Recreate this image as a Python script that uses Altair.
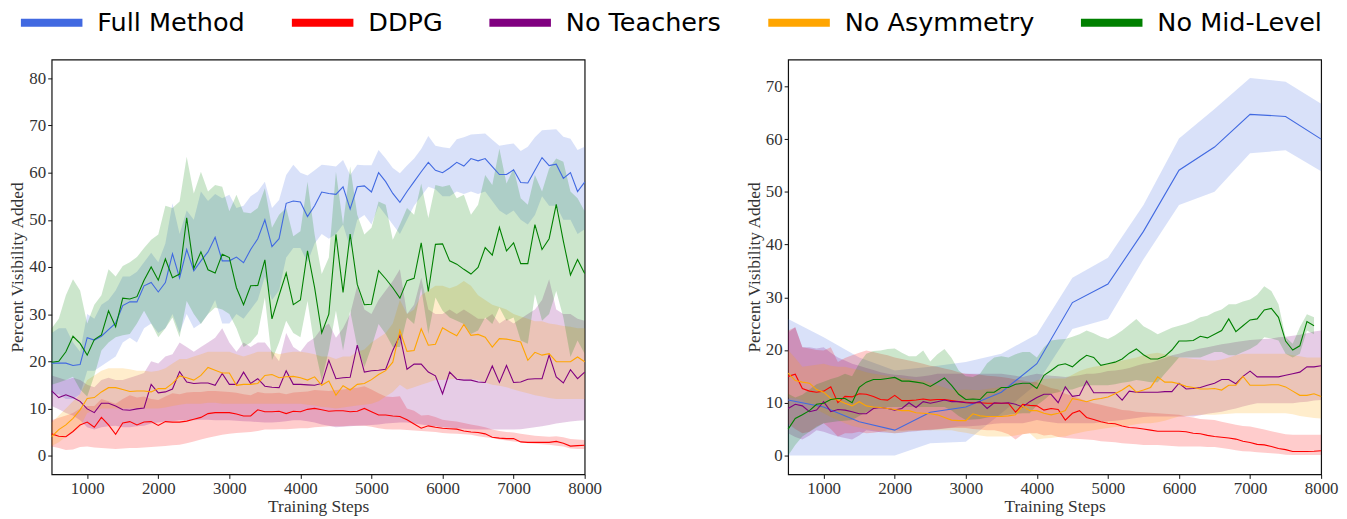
import altair as alt
import pandas as pd

METHODS = ["Full Method", "DDPG", "No Teachers", "No Asymmetry", "No Mid-Level"]
COLORS = ["#4169E1", "#FF0000", "#800080", "#FFA500", "#008000"]

steps = list(range(500, 8001, 100))
steps_green_r = list(range(500, 7901, 100))
steps_blue_r = [500, 1000, 1500, 2000, 2500, 3000, 3500, 4000, 4500, 5000, 5500, 6000, 6500, 7000, 7500, 8000]

# ---------------- Left panel ----------------
L_blue = [19.6, 19.6, 19.6, 19.1, 19.3, 25, 24.5, 25.3, 26.7, 28.1, 31.8, 32.6, 32.6, 36, 36.7, 34.7, 36.7, 42.8, 37.7, 43.7,
          39.2, 41.3, 43.2, 46.3, 41.3, 41.3, 42.1, 40.9, 43.7, 46, 50, 44.3, 46, 53.5, 54, 53.8, 50.7, 53, 55.9, 55.6,
          55.4, 57, 52.3, 57, 57.2, 55.9, 60, 58.1, 55.6, 53.7, 56, 58.1, 60.2, 62.2, 60.5, 60, 61, 62.2, 61.4, 63,
          62.5, 63, 61.3, 59.6, 59.6, 60.6, 57.9, 57.8, 60.5, 63.2, 61.5, 61.8, 58.8, 60, 56, 58]
L_blue_hi = [26, 27, 27, 24, 22, 30, 29, 32, 33, 35, 38, 38, 39, 41, 43, 41, 45, 53.5, 47, 52,
             50, 56, 54, 55.5, 54.6, 55.3, 52.5, 53, 55, 56, 58.1, 52.5, 54.2, 59.5, 61.7, 60, 59.4, 60.5, 61.7, 61.5,
             61.3, 62.7, 59.5, 61.7, 61.6, 61.6, 64.8, 63, 61, 59.9, 61.5, 63, 65, 67.8, 65.7, 65.4, 65.2, 67.1, 67.5, 68.1,
             68.2, 68.3, 67, 65.7, 66, 66.2, 64.6, 65.5, 67.5, 69, 69.1, 69.2, 67.6, 67.2, 64.8, 65.5]
L_blue_lo = [13, 13, 12, 12, 13, 18, 18, 19, 20, 21, 24, 25, 24, 27, 28, 26, 27, 30, 26, 30,
             27, 28, 30, 33, 28, 28, 30, 29, 31, 33, 38, 33, 35, 42, 44, 44, 41, 45, 47, 46,
             47, 49, 44, 50, 51, 49, 53, 51, 49, 47, 50, 53, 55, 57, 56.5, 55, 55, 56, 55.5, 56,
             55.5, 56, 54, 52, 51, 52, 50, 49, 51, 55, 53, 53, 50, 50, 47, 48]

L_red = [4.6, 4.1, 4.0, 5.1, 6.5, 7.1, 6.0, 8.1, 6.5, 4.5, 6.9, 7.2, 6.5, 7.1, 7.2, 6.4, 7.2, 7.1, 7.1, 7.3,
         7.7, 8.1, 8.9, 9.1, 9.1, 9.1, 8.8, 8.4, 8.4, 9.7, 9.3, 9.3, 9.4, 8.9, 9.4, 9.3, 9.8, 10, 9.7, 9.4,
         9.5, 9.5, 9.3, 9.4, 10, 9.3, 8.6, 8.6, 8.4, 8.3, 7.6, 6.7, 5.8, 6.3, 6.0, 5.8, 5.7, 5.6, 5.2, 5.0,
         4.9, 4.6, 3.9, 3.7, 3.6, 3.6, 2.9, 2.8, 2.8, 2.8, 2.8, 3.0, 2.6, 2.0, 2.1, 2.2]
L_red_hi = [7.5, 8, 8.5, 9, 10, 10.5, 10.5, 12, 11.5, 11, 12, 12.8, 12.3, 12.5, 12, 11.8, 12.5, 13.2, 13, 13.4,
            13.5, 13.5, 13.7, 13.7, 13.6, 13.5, 13.3, 13, 12.8, 13.5, 13.2, 13.2, 13.3, 13, 13.4, 13.5, 13.6, 13.9, 13.8, 13.7,
            13.9, 14, 14.2, 14.4, 14.7, 14, 13.2, 12.5, 12.4, 12.6, 10, 9.5, 8.5, 8.6, 8.2, 7.6, 7.4, 7.2, 6.9, 6.6,
            6.3, 6.0, 5.5, 5.2, 5.0, 4.9, 4.6, 4.4, 4.2, 4.1, 4.0, 4.1, 3.9, 3.5, 3.4, 3.3]
L_red_lo = [1.9, 1.6, 1.2, 1.3, 1.8, 1.9, 1.7, 1.6, 1.5, 1.4, 1.5, 1.6, 1.6, 1.7, 1.8, 1.9, 2.0, 2.2, 2.3, 2.6,
            3.0, 3.4, 3.8, 4.1, 4.4, 4.6, 4.8, 4.9, 5.0, 5.2, 5.5, 5.5, 5.6, 5.6, 5.7, 5.8, 5.8, 6.0, 6.1, 6.2,
            6.2, 6.2, 6.3, 6.3, 6.3, 6.1, 5.8, 5.6, 5.5, 5.5, 5.4, 5.3, 5.2, 5.1, 5.0, 4.8, 4.7, 4.6, 4.5, 4.4,
            4.1, 3.9, 3.7, 3.4, 3.2, 3.0, 2.8, 2.6, 2.5, 2.4, 2.3, 2.1, 1.9, 1.5, 1.4, 1.4]

L_purple = [13.7, 12.3, 12.9, 12.3, 11.5, 9.9, 9.1, 11.1, 11.1, 10.5, 9.7, 9.6, 9.9, 10.1, 15.1, 13.3, 13.5, 14.1, 17.8, 15.6,
            15.3, 15.4, 15.4, 14.9, 17.4, 15.1, 15.1, 17.7, 15.3, 16.3, 14.7, 14.5, 14.4, 18, 15.1, 15.1, 15, 14.9, 15.3, 20.2,
            16.3, 16.5, 16.6, 23.4, 17.7, 18, 18.1, 18.3, 22.3, 25.5, 18.3, 19.4, 19.4, 17.7, 16.9, 13.1, 17.7, 16.2, 16, 16,
            15.6, 15.5, 19, 15.5, 19.1, 15.5, 15.6, 16.2, 16.3, 16.3, 21.3, 16.7, 15.4, 18.2, 16.3, 17.7]
L_purple_hi = [17, 16.5, 16, 16.5, 16, 15, 14.5, 16, 16.5, 16, 16, 16.5, 17, 17.5, 20, 19.5, 21, 21.5, 24, 23,
               22, 23, 24, 25, 27, 24, 22, 24, 23, 24, 24, 22, 20, 26, 23, 22, 24, 25, 27, 28,
               25, 27, 30, 36, 31, 30, 33, 35, 37, 39.5, 30, 32, 37.7, 31, 30, 30, 31, 30, 31, 30,
               29, 29, 30, 28, 29, 28, 29, 30, 31, 33, 37.4, 31, 30, 30, 29, 28.6]
L_purple_lo = [10.5, 9.8, 9, 8.5, 7.5, 6, 5.5, 6, 6.2, 6.3, 6, 6, 6.2, 6.3, 6.8, 7, 7.2, 7.3, 7.5, 7.5,
               7.5, 7.6, 7.6, 7.5, 7.5, 7.5, 7.4, 7.3, 7.2, 7.1, 7, 7, 7.1, 7.3, 7.5, 7.5, 7.3, 7, 6.6, 6.3,
               6, 6.1, 6.2, 6.3, 6.4, 6.5, 6.6, 6.8, 6.9, 7, 7, 6.8, 6.6, 6.4, 6.2, 6, 5.9, 5.8, 5.7, 5.6,
               5.5, 5.5, 5.5, 5.5, 5.5, 5.5, 5.6, 5.8, 6, 6.2, 6.5, 6.8, 7, 7.2, 7.4, 7.5]

L_orange = [4.0, 5.5, 6.5, 7.9, 9.7, 12.1, 12.3, 13.5, 14.4, 14.4, 14, 13.6, 13.7, 13.7, 13.5, 14.2, 14.2, 15.3, 16.9, 16.5,
            16, 17, 18.7, 18.1, 17.5, 17.5, 14.9, 15.1, 15.1, 15.3, 17, 17.2, 16.5, 16.7, 16.8, 16.5, 16, 16.7, 14.9, 15.8,
            12.8, 14.8, 13.9, 15.1, 15.3, 16.1, 17.2, 18, 19.8, 26.5, 22.1, 22.3, 26.9, 23.4, 23.6, 27.1, 26.2, 25.4, 27.8, 25.5,
            25.7, 25.1, 23, 24.8, 24.7, 24.4, 24.1, 20.2, 21.9, 21.3, 21.6, 19.9, 19.9, 19.9, 20.9, 19.9]
L_orange_hi = [7, 8.5, 10, 11.5, 13, 16, 17, 18, 18.5, 18.5, 18.5, 18.3, 18, 18, 17.8, 18, 18.5, 19.5, 20.5, 20.5,
               21, 21.5, 22, 22, 22, 22, 21.5, 21, 21.5, 22, 22, 22, 21.5, 21.8, 22, 22, 21.8, 21.5, 21, 21,
               20.5, 21, 21, 22, 22.5, 24, 25, 26, 28, 33, 30, 31, 34, 35, 36, 36, 35.5, 36, 37, 36,
               34, 33, 32, 31.5, 31, 30, 29.5, 29, 28.5, 28.5, 28, 27.8, 27.5, 27.3, 27, 27]
L_orange_lo = [2, 2.8, 4, 5, 6, 9, 9.5, 10, 10, 10, 10, 10, 10, 10, 10, 10, 10.2, 10.5, 10.8, 11,
               11, 11, 11.2, 11.2, 11, 11, 11, 11, 11, 11, 11, 11, 11, 11, 11, 11, 10.8, 10.6, 10.3, 10.2,
               10, 10.2, 10.4, 10.6, 10.8, 11, 11.5, 12.5, 13.5, 15, 14, 14.5, 15, 15.5, 16, 16, 16.2, 16.3, 16.3, 16.2,
               16, 15.5, 15, 14.8, 14.5, 14, 13.6, 13.2, 12.8, 12.5, 12.2, 12, 12, 12, 12, 12]

L_green = [19.8, 20, 22, 25.3, 23.8, 21.3, 24.6, 25.6, 30.7, 27.3, 33.4, 33.2, 33.7, 37.2, 40, 37.2, 41.7, 37.7, 38.5, 50.4,
           39.7, 43.2, 39.4, 38.7, 42.7, 42, 35.6, 32, 36, 36.1, 41.5, 29, 34, 38.7, 32, 33, 43.4, 35.6, 26, 30,
           46.9, 34.6, 47, 36.3, 32, 32.1, 39.2, 37.5, 35.6, 33.4, 37.1, 37.6, 45.1, 34.8, 44.8, 44.9, 41.3, 40.6, 39.5, 38.5,
           39.9, 44.1, 42.5, 48.4, 43.4, 45.1, 40.7, 40.7, 49, 43.7, 46, 53.3, 45.5, 38.3, 41.6, 38.6]
L_green_hi = [27, 29, 34, 37.4, 35, 28, 32, 34, 39.5, 38, 40.2, 41, 42.1, 44, 45.8, 46.9, 53, 52.5, 53.9, 63.4,
              55.6, 60.2, 56, 57.4, 57, 51.8, 55.3, 51.6, 51.4, 52.5, 56.7, 48.3, 51.1, 52.5, 46.5, 47.6, 58.1, 46.9, 38.5, 42,
              60.2, 49, 61.3, 51.1, 46.9, 48.3, 53.9, 53.2, 45.8, 49, 52.5, 51.1, 57.7, 50.4, 57.4, 57, 57.4, 54.6, 55.3, 51.1,
              53.2, 59.5, 57.4, 65.1, 57.7, 60.9, 54.6, 53.2, 59.5, 56, 60.9, 63, 62.3, 56, 54.6, 51.8]
L_green_lo = [15, 15.5, 16, 16.7, 14, 12.5, 17, 22.3, 24, 25.1, 25.5, 25.8, 28, 30.7, 28, 25.1, 27, 29.3, 25.1, 32.8,
              30, 27.9, 30, 31.4, 31, 30, 27, 23, 24, 25.8, 33.5, 20.2, 24, 28.6, 26, 25.1, 32.8, 23, 16, 22.3,
              30.7, 22.3, 30.7, 23, 18.8, 23, 27.9, 25.8, 23, 23, 29.3, 27.9, 35.6, 25.8, 33.5, 30.7, 29.3, 28.6, 27.9, 25.8,
              26.5, 29.3, 27.9, 31.4, 28.6, 29.3, 24.4, 23.7, 34.2, 28.6, 30, 34.9, 29.3, 20.9, 24.4, 21.6]

# ---------------- Right panel ----------------
R_blue = [10.5, 9.2, 6.4, 4.8, 8.2, 9.2, 12, 17.4, 29, 32.5, 42.5, 54.1, 58.5, 64.7, 64.3, 60]
R_blue_hi = [25.9, 22.4, 18.6, 16.1, 16.8, 17.7, 19.3, 23, 33.7, 37.5, 47.5, 60.1, 65.7, 71.6, 70.9, 66.7]
R_blue_lo = [0, 0, 0, 0, 2.3, 2.6, 8, 13.6, 24, 25.9, 37.2, 47.5, 50, 57.3, 57.9, 53.9]

R_red = [15, 15.4, 12.7, 12.2, 12, 12.2, 13, 10, 11.2, 11.1, 11.7, 11.6, 11.2, 10.6, 10.5, 11.4, 10.4, 10.4, 10.5, 10.7,
         10.5, 10.6, 10.6, 10.4, 10.2, 10.1, 10, 10, 9.9, 9.9, 9.9, 9.9, 8.2, 9.7, 9.5, 9.4, 8.6, 8.9, 8.7, 6.7,
         8, 8.5, 7.2, 6.8, 6.4, 6.1, 6.0, 5.6, 5.3, 5.2, 5.0, 4.8, 4.6, 4.6, 4.6, 4.6, 4.5, 4.2, 4.1, 3.8,
         3.6, 3.45, 3.3, 3.1, 2.7, 2.45, 2.1, 2.0, 1.7, 1.3, 1.1, 0.75, 0.75, 0.75, 0.8, 0.9]
R_red_hi = [23.7, 24.3, 20.5, 20.3, 20, 19.9, 20.5, 17.7, 18.5, 19, 19.5, 19.9, 19.6, 19.3, 19, 18.6, 18.3, 18, 17.7, 17.4,
            17, 16.8, 16.5, 16.2, 15.8, 15.5, 15.4, 15.3, 15.1, 15, 14.9, 14.7, 14.4, 14.2, 14, 13.9, 13.3, 12.8, 12.5, 11.7,
            11.3, 10.8, 10.3, 9.9, 9.6, 9.3, 9, 8.6, 8.5, 8.3, 8.2, 8.1, 8, 7.9, 7.8, 7.7, 7.4, 7.2, 6.9, 6.8,
            6.7, 6.4, 6.1, 5.8, 5.6, 5.5, 5.2, 4.9, 4.6, 4.3, 4, 3.9, 3.9, 3.9, 3.9, 3.9]
R_red_lo = [6, 5, 4.2, 4.5, 5.5, 6.1, 5, 3.6, 4.2, 4.2, 4.5, 4.2, 4.3, 4.5, 4.8, 4.8, 4.7, 4.8, 4.8, 4.8,
            4.9, 5, 5.1, 5.2, 5.2, 5.2, 5, 4.9, 4.8, 4.8, 4.5, 4, 3, 4, 4.2, 4.2, 3.8, 3.9, 3.5, 3.3,
            3.2, 3.1, 3, 2.95, 2.7, 2.6, 2.5, 2.3, 2.2, 2.1, 2.0, 2.0, 2, 1.9, 1.8, 1.7, 1.7, 1.7, 1.7, 1.6,
            1.6, 1.4, 1.2, 1, 0.8, 0.75, 0.6, 0.5, 0.4, 0.3, 0.15, 0.1, 0.1, 0.1, 0.1, 0.1]

R_purple = [8.9, 9.7, 9.4, 8.3, 8.6, 10.2, 8.3, 8.7, 8.6, 8.3, 7.9, 7.9, 8.9, 9.1, 8.9, 8.6, 8.9, 10, 9.1, 10.2,
            9.9, 10.2, 10.5, 10.2, 10.2, 10, 9.9, 10.2, 8.9, 10, 9.9, 10, 9.7, 9.2, 10.2, 11, 11.6, 11.6, 10, 13,
            11.2, 11.4, 14.1, 11.9, 11.9, 11.9, 11.9, 10.5, 12.2, 12, 12, 12, 12, 12.1, 12.1, 13.7, 12.6, 12.7, 12.9, 13.3,
            13.7, 14.4, 14.4, 13.6, 15, 16, 14.9, 14.9, 14.9, 14.9, 15.2, 15.5, 15.8, 16.8, 16.8, 17]
R_purple_hi = [23.3, 24.3, 20.5, 20.5, 20.3, 20.5, 19.5, 18.6, 18, 17.4, 17, 16.6, 16.2, 15.8, 15.5, 15.3, 15.2, 15, 14.9, 15,
               15.2, 15.5, 15.5, 15.5, 15.5, 15.5, 15.5, 15.5, 15.5, 15.5, 15.5, 15.3, 15.1, 14.9, 15.2, 15.5, 15.3, 15.1, 15, 14.9,
               15, 15.2, 15.5, 15.5, 15.7, 16, 16.1, 16.3, 16.6, 17, 17.4, 17.6, 18, 18.5, 19, 19.3, 19.7, 20, 20.3, 20.5,
               20.8, 21.1, 21.3, 21.5, 21.7, 21.9, 22, 22.1, 22.2, 22.4, 22.5, 22.7, 22.9, 23.2, 23.5, 23.7]
R_purple_lo = [4.2, 3.5, 3, 3.8, 4.8, 4.5, 4, 3.6, 3.3, 3, 3.8, 4.8, 4.6, 4.4, 4.3, 4.2, 4.3, 4.5, 4.6, 4.8,
               4.8, 4.9, 5.1, 5.3, 5.5, 5.5, 5.6, 5.7, 5.8, 6, 6.1, 6.1, 6.1, 6.1, 6.4, 6.7, 6.5, 6.3, 6.1, 6.1,
               6.1, 6.1, 6.1, 6.1, 6.3, 6.5, 6.6, 6.7, 6.9, 7.1, 7.3, 7.4, 7.4, 7.4, 7.4, 7.4, 7.4, 7.4, 7.6, 7.9,
               8.1, 8.3, 8.6, 8.9, 9.3, 9.6, 9.9, 9.9, 9.9, 9.9, 9.9, 9.9, 10.1, 10.2, 10.4, 10.5]

R_orange = [15.6, 14.2, 13.9, 13.7, 12.5, 12, 10.8, 10.5, 9.9, 9.4, 10.2, 9.4, 9.2, 9.1, 8.9, 8.7, 8.5, 8.5, 8.1, 8,
            7.9, 7.7, 7.2, 6.7, 6.6, 6.6, 7.9, 7.5, 7.4, 7.4, 7.4, 7.5, 7.7, 9.4, 8.5, 8.5, 8, 7.7, 8, 8.5,
            10.8, 10.5, 10.2, 10.6, 10.8, 11.1, 11.7, 12.4, 13.3, 12, 12.4, 12.9, 14.9, 13.9, 13.9, 13.6, 13.1, 12.9, 12.6, 12.6,
            12.7, 12.4, 13.3, 13.3, 15, 13.3, 13.3, 13.3, 13.4, 13.4, 13, 12.2, 11.4, 11.4, 11.7, 11.2]
R_orange_hi = [20, 18.5, 16.8, 17, 17.2, 17.4, 17, 16.8, 16.8, 16.5, 16.2, 15.8, 15.5, 15.3, 15.1, 14.9, 14.7, 14.5, 14.3, 14.2,
               13.8, 13.3, 12.9, 12.4, 12.4, 12.5, 12.4, 12.4, 12.6, 12.8, 13, 13, 13.2, 13.5, 13.6, 14.3, 14.5, 14.6, 14.6, 14.6,
               15.3, 16, 16.5, 16.8, 17, 17.3, 17.7, 18, 18.3, 18.6, 19, 19.3, 19.5, 19.2, 18.8, 18.6, 18.5, 18.3, 18.2, 18,
               18, 18.2, 18.6, 19, 19.3, 19.3, 19.3, 19.3, 19.3, 19.3, 19.3, 19, 18.8, 18.6, 18.6, 18.6]
R_orange_lo = [11, 10.8, 10.5, 9.5, 8.7, 8, 7.3, 6.7, 6.1, 5.6, 5.3, 5, 4.8, 4.6, 4.4, 4.2, 4.4, 4.6, 4.7, 4.8,
               4.8, 4.8, 4.8, 4.8, 4.5, 4.3, 4, 3.8, 3.6, 3.6, 3.6, 3.6, 3.8, 4, 4.2, 3, 3.2, 3.3, 3.5, 3.6,
               4, 4.3, 4.6, 4.8, 5, 5.2, 5.4, 5.5, 5.7, 5.9, 6.1, 6.1, 6.3, 6.6, 7, 7.4, 7.5, 7.6, 7.7, 7.7,
               7.7, 7.8, 7.9, 8, 8, 8, 8, 8, 8, 8, 8, 7.8, 7.5, 7.3, 7.1, 7]

R_green = [5, 7, 7.7, 8.5, 9.7, 9.9, 10.6, 10.8, 10.8, 10, 12.9, 13.9, 14.4, 14.4, 14.6, 14.8, 14.1, 14.1, 13.9, 13.7,
           13.1, 13.9, 14.7, 13.3, 11.6, 10.6, 10.7, 10.6, 12, 12, 12.9, 12.9, 13.5, 13.7, 13.7, 12.7, 15.2, 16.1, 17.1, 17.4,
           16.8, 18, 19, 18.6, 17.1, 17.4, 17.7, 18.3, 19.4, 20.2, 19.1, 18.3, 18.3, 18.8, 20, 21.7, 21.7, 21.8, 22.6, 22.3,
           23, 23.7, 25.9, 23.5, 24.6, 25.7, 25.9, 27.6, 27.9, 26.2, 21.7, 20, 20.8, 25.4, 24.6]
R_green_hi = [11.7, 11, 11.5, 12.5, 13.5, 14, 14.5, 14.9, 15.5, 15, 17.5, 19.3, 19.8, 19.9, 20.2, 20.3, 19.5, 18.8, 18.8, 19.9,
              17.8, 19.2, 20.2, 18.5, 16.1, 15, 14.9, 15.5, 17.5, 18.6, 18.8, 18.6, 19.2, 19.6, 19.6, 18.6, 20.5, 21.8, 22, 22.1,
              22.5, 23, 23.7, 23.2, 22.5, 22.1, 22.8, 23.7, 24.8, 25.9, 24.5, 23.8, 23, 23.6, 24.2, 24.6, 25, 25.5, 26.2, 26.5,
              27.2, 27.7, 28.7, 28.7, 29.2, 29.6, 30.5, 32.1, 31.2, 28.7, 22.4, 21.2, 24.3, 26.8, 26.2]
R_green_lo = [0, 2, 3.6, 4.5, 5.3, 6.1, 6.3, 6.5, 6.6, 6.7, 7.5, 8.2, 8.8, 9.2, 9.2, 9.2, 9.2, 9.2, 9.2, 9.2,
              9.2, 9.2, 9.2, 8.5, 7.5, 6.7, 6.8, 6.9, 7.2, 7.4, 7.5, 7.7, 7.9, 8, 8, 9.5, 10.5, 11.7, 12, 12.4,
              12.5, 13, 13.3, 13.3, 13.3, 13.3, 13.5, 13.8, 14, 14.3, 14.1, 13.9, 13.9, 15.5, 17, 18.6, 18.6, 18.6, 18.6, 19.1,
              19.6, 19.6, 19, 19, 19.6, 20.2, 21, 22.4, 22.2, 21.8, 19.3, 18.6, 19.3, 23.7, 23]

Y_TICKS_L = [0, 10, 20, 30, 40, 50, 60, 70, 80]
Y_TICKS_R = [0, 10, 20, 30, 40, 50, 60, 70]
X_TICKS = [1000, 2000, 3000, 4000, 5000, 6000, 7000, 8000]


def frame(series):
    rows = []
    for name, xs, m, lo, hi in series:
        for x, a, b, c in zip(xs, m, lo, hi):
            rows.append({"step": x, "mean": a, "lo": b, "hi": c, "method": name})
    return pd.DataFrame(rows)


left_df = frame([
    ("Full Method", steps, L_blue, L_blue_lo, L_blue_hi),
    ("DDPG", steps, L_red, L_red_lo, L_red_hi),
    ("No Teachers", steps, L_purple, L_purple_lo, L_purple_hi),
    ("No Asymmetry", steps, L_orange, L_orange_lo, L_orange_hi),
    ("No Mid-Level", steps, L_green, L_green_lo, L_green_hi),
])
right_df = frame([
    ("Full Method", steps_blue_r, R_blue, R_blue_lo, R_blue_hi),
    ("DDPG", steps, R_red, R_red_lo, R_red_hi),
    ("No Teachers", steps, R_purple, R_purple_lo, R_purple_hi),
    ("No Asymmetry", steps, R_orange, R_orange_lo, R_orange_hi),
    ("No Mid-Level", steps_green_r, R_green, R_green_lo, R_green_hi),
])

color_scale = alt.Scale(domain=METHODS, range=COLORS)
LEGEND = alt.Legend(title=None, orient="none", direction="horizontal",
                    legendX=-35, legendY=-72,
                    symbolType="stroke", symbolStrokeWidth=8, symbolSize=3844,
                    symbolOpacity=1, labelFont="DejaVu Sans", labelFontSize=25.7,
                    labelColor="black", labelLimit=0, columnPadding=31, labelOffset=11)
SERIF = "Liberation Serif"


def panel(df, ydom, yticks):
    x = alt.X("step:Q", scale=alt.Scale(domain=[500, 8000], nice=False, zero=False),
              axis=alt.Axis(values=X_TICKS, title="Training Steps", format="d"))
    band = alt.Chart(df).mark_area(opacity=0.2, interpolate="linear").encode(
        x=x,
        y=alt.Y("lo:Q", scale=alt.Scale(domain=ydom, nice=False, zero=False),
                axis=alt.Axis(values=yticks, title="Percent Visibility Added")),
        y2="hi:Q",
        color=alt.Color("method:N", scale=color_scale, sort=METHODS, legend=LEGEND),
    )
    line = alt.Chart(df).mark_line(strokeWidth=1.1).encode(
        x=x,
        y=alt.Y("mean:Q"),
        color=alt.Color("method:N", scale=color_scale, sort=METHODS, legend=LEGEND),
    )
    return alt.layer(band, line).properties(width=537, height=418)


chart = alt.hconcat(
    panel(left_df, [-4, 84], Y_TICKS_L),
    panel(right_df, [-3.6, 75.1], Y_TICKS_R),
    spacing=143,
).properties(
    padding={"left": 0, "top": -22, "right": 0, "bottom": 0},
).configure_view(
    stroke="#111", strokeWidth=1.2
).configure_axis(
    grid=False,
    domain=False,
    tickColor="#111",
    tickSize=4,
    labelFont=SERIF,
    labelFontSize=17,
    labelColor="#333",
    titleFont=SERIF,
    titleFontSize=17.5,
    titleFontWeight="normal",
    titleColor="#333",
    labelPadding=2,
).configure_axisY(
    titlePadding=2,
).configure_axisX(
    titlePadding=1,
    labelFlush=False,
)

chart.save("out.html", embed_options={"renderer": "svg", "actions": False})
